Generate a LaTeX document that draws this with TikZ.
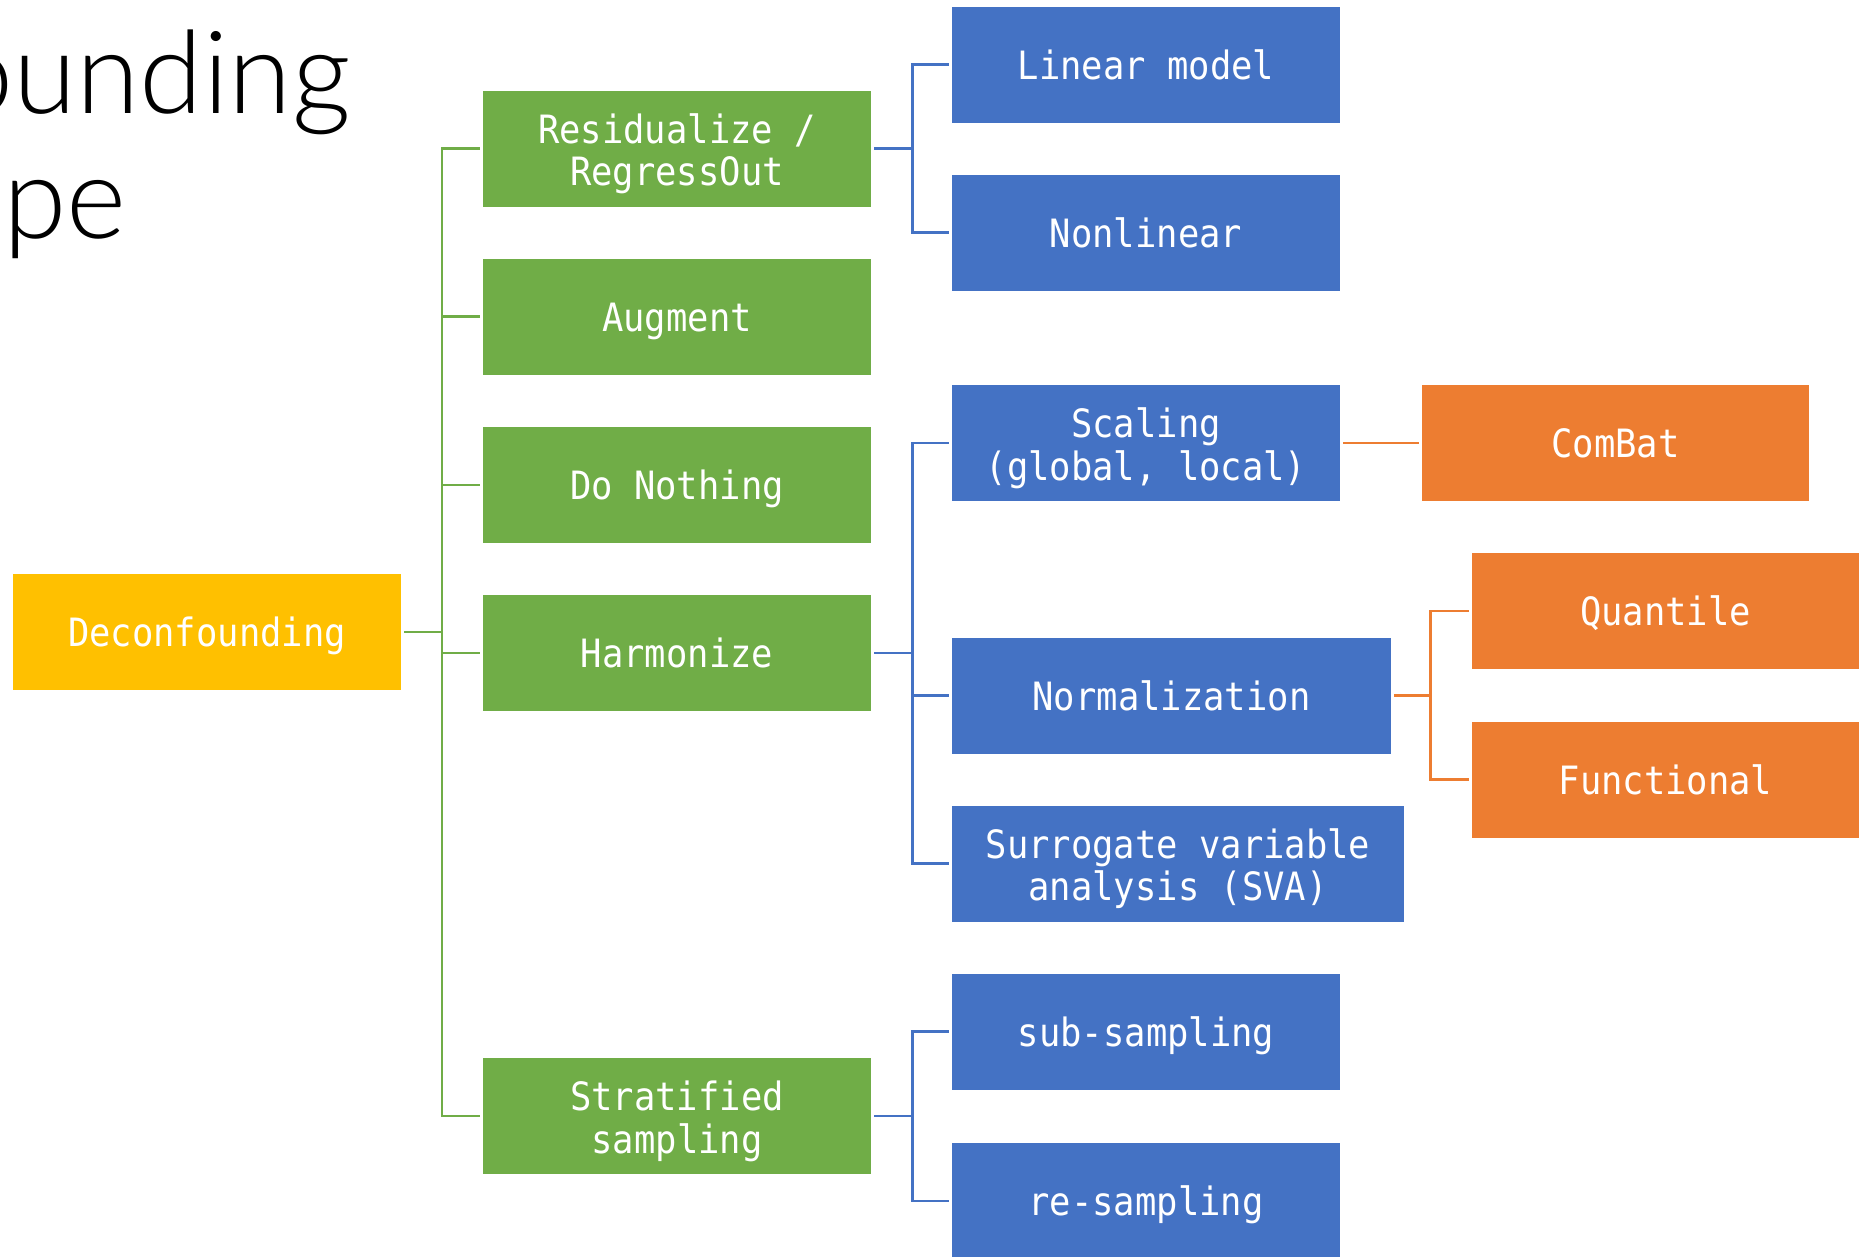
\documentclass[tikz,border=0pt]{standalone}
\usepackage{fontspec}
\newfontfamily\boxfont[FakeStretch=0.91]{DejaVu Sans Mono}
\newfontfamily\titlefont{Lato Light}
\definecolor{cgreen}{HTML}{70AD47}
\definecolor{cblue}{HTML}{4472C4}
\definecolor{corange}{HTML}{ED7D31}
\definecolor{cyellow}{HTML}{FFC000}
% two centred lines, the lower baseline set under the node's baseline
\newcommand\boxlines[2]{\raisebox{-22.5pt}[0pt][0pt]{%
  \begin{tabular}[b]{@{}c@{}}#1\\#2\end{tabular}}}
\begin{document}
\begin{tikzpicture}[x=1pt,y=-1pt,
  box/.style={rectangle, draw=none, minimum height=116pt, inner sep=0pt,
    text=white, font=\boxfont\fontsize{39pt}{42pt}\selectfont,
    execute at begin node={\rule{0pt}{40pt}},
    execute at end node={\rule[-11pt]{0pt}{11pt}}},
  rootbox/.style={box, fill=cyellow, minimum width=388pt},
  gbox/.style={box, fill=cgreen, minimum width=388pt},
  bbox/.style={box, fill=cblue, minimum width=388pt},
  obox/.style={box, fill=corange, minimum width=387pt},
  link/.style={line width=2.6pt, shorten <=3pt, shorten >=3pt},
  glink/.style={link, draw=cgreen},
  blink/.style={link, draw=cblue},
  olink/.style={link, draw=corange},
  title/.style={inner sep=0pt, anchor=base east,
    font=\titlefont\fontsize{115pt}{125pt}\selectfont}
]
\clip (0,0) rectangle (1870,1256);
\fill[white] (0,0) rectangle (1870,1256);

% heading (runs off the left edge)
\node[title] (t1) at (351,113) {ounding};
\node[title] (t2) at (127,238) {pe};

% root
\node[rootbox] (root) at (207,632) {Deconfounding};

% first level
\node[gbox] (res)     at (677,148.5) {\boxlines{Residualize /}{RegressOut}};
\node[gbox] (aug)     at (677,316.5) {Augment};
\node[gbox] (nothing) at (677,485)   {Do Nothing};
\node[gbox] (harm)    at (677,653)   {Harmonize};
\node[gbox] (strat)   at (677,1116)  {\boxlines{Stratified}{sampling}};

% second level
\node[bbox] (lin)   at (1146,64.5)  {Linear model};
\node[bbox] (nonlin) at (1146,232.5) {Nonlinear};
\node[bbox] (scal)  at (1146,443)   {\boxlines{Scaling}{(global, local)}};
\node[bbox, minimum width=439pt] (norm) at (1171.5,695.5) {Normalization};
\node[bbox, minimum width=452pt] (sva)  at (1178,863.5)  {\boxlines{Surrogate variable}{analysis (SVA)}};
\node[bbox] (sub)   at (1146,1031.5) {sub-sampling};
\node[bbox] (resam) at (1146,1201)   {re-sampling};

% third level
\node[obox] (combat) at (1615.5,443) {ComBat};
\node[obox] (quant)  at (1665.5,611) {Quantile};
\node[obox] (func)   at (1665.5,779.5) {Functional};

% connectors
\coordinate (gt) at (442,632);
\foreach \c in {res,aug,nothing,harm,strat}
  \draw[glink] (root.east) -- (gt) |- (\c.west);

\foreach \c in {lin,nonlin}
  \draw[blink] (res.east) -- ([xshift=41pt]res.east) |- (\c.west);
\foreach \c in {scal,norm,sva}
  \draw[blink] (harm.east) -- ([xshift=41pt]harm.east) |- (\c.west);
\foreach \c in {sub,resam}
  \draw[blink] (strat.east) -- ([xshift=41pt]strat.east) |- (\c.west);

\draw[olink] (scal.east) -- (combat.west);
\foreach \c in {quant,func}
  \draw[olink] (norm.east) -- ([xshift=39pt]norm.east) |- (\c.west);
\end{tikzpicture}
\end{document}
